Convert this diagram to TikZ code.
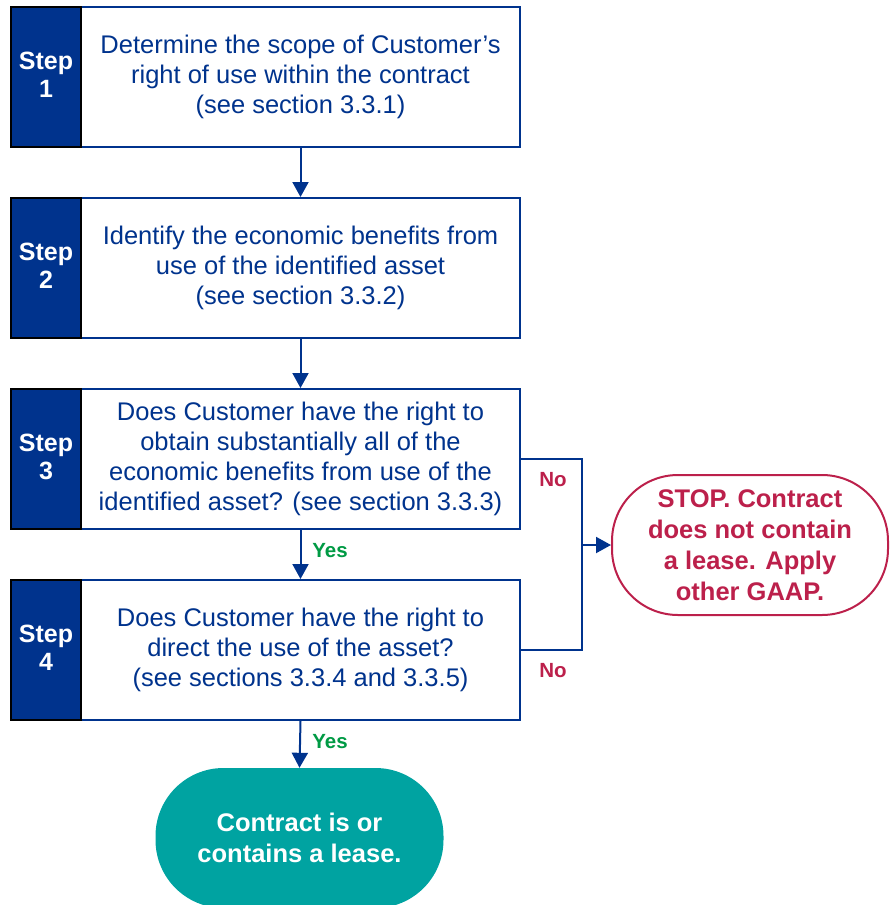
\documentclass[tikz,border=0pt]{standalone}
\usepackage{fontspec}
\setmainfont{Liberation Sans}
\usetikzlibrary{arrows.meta}
\definecolor{kdark}{HTML}{00338D}
\definecolor{kteal}{HTML}{00A3A1}
\definecolor{kgreen}{HTML}{009A44}
\definecolor{kred}{HTML}{BC204B}
\begin{document}
\begin{tikzpicture}[x=1pt,y=-1pt,
 stepbox/.style={draw=black, line width=2pt, fill=kdark, text=white, font=\bfseries\fontsize{25}{28}\selectfont, minimum width=70pt, minimum height=140pt, inner sep=0pt, anchor=north west, align=center, text depth=4pt},
 textbox/.style={draw=kdark, line width=2pt, fill=white, text=kdark, font=\fontsize{25.5}{30}\selectfont, minimum width=439pt, minimum height=140pt, inner sep=0pt, anchor=north west, align=center},
 conn/.style={draw=kdark, line width=2pt},
 arr/.style={conn, -{Triangle[length=15pt,width=16pt]}},
 yeslab/.style={text=kgreen, font=\bfseries\fontsize{20.5}{24}\selectfont},
 nolab/.style={text=kred, font=\bfseries\fontsize{20.5}{24}\selectfont}]
\useasboundingbox (0,0) rectangle (890,905);

\node[textbox] (t1) at (80,6) {Determine the scope of Customer’s\\right of use within the contract\\(see section 3.3.1)};
\node[stepbox] (s1) at (10,6) {Step\\1};

\node[textbox] (t2) at (80,197) {Identify the economic benefits from\\use of the identified asset\\(see section 3.3.2)};
\node[stepbox] (s2) at (10,197) {Step\\2};

\node[textbox] (t3) at (80,388) {Does Customer have the right to\\obtain substantially all of the\\economic benefits from use of the\\identified asset? (see section 3.3.3)};
\node[stepbox] (s3) at (10,388) {Step\\3};

\node[textbox] (t4) at (80,579) {Does Customer have the right to\\direct the use of the asset?\\(see sections 3.3.4 and 3.3.5)};
\node[stepbox] (s4) at (10,579) {Step\\4};

\node[draw=kred, line width=2pt, rounded corners=66pt, minimum width=276pt, minimum height=140pt, inner sep=0pt, text=kred, font=\bfseries\fontsize{25.5}{31}\selectfont, align=center] (stop) at (750,545) {STOP. Contract\\does not contain\\a lease. Apply\\other GAAP.};

\node[fill=kteal, rounded corners=68pt, minimum width=288pt, minimum height=140pt, inner sep=0pt, text=white, font=\bfseries\fontsize{25.5}{31}\selectfont, align=center] (fin) at (299.5,838) {Contract is or\\contains a lease.};

\coordinate (j) at (582,545);

\draw[arr] (t1.south) -- (t2.north);
\draw[arr] (t2.south) -- (t3.north);
\draw[arr] (t3.south) -- (t4.north);
\draw[arr] (t4.south) -- (fin.north);
\draw[conn] (t3.east) -| (j);
\draw[conn] (t4.east) -| (j);
\draw[arr] (j) -- (stop.west);

\node[yeslab] (y1) at (330,551) {Yes};
\node[yeslab] (y2) at (330,742) {Yes};
\node[nolab] (n1) at (553,480) {No};
\node[nolab] (n2) at (553,671) {No};
\end{tikzpicture}
\end{document}
